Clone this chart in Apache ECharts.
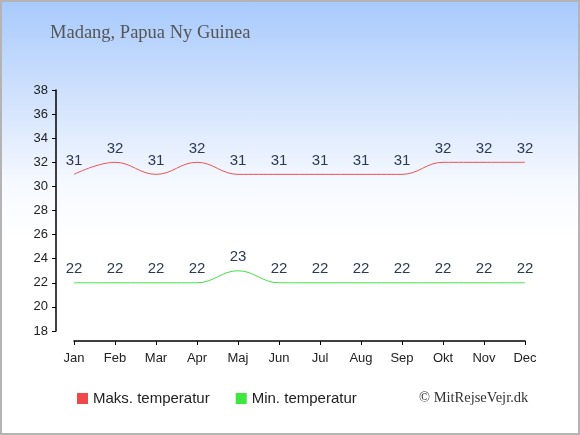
<!DOCTYPE html>
<html>
<head>
<meta charset="utf-8">
<script src="https://cdn.jsdelivr.net/npm/echarts@6/dist/echarts.min.js"></script>
<style>
html,body{margin:0;padding:0;}
#chart{width:580px;height:435px;box-sizing:border-box;border:2px solid #b4b4b4;
background:linear-gradient(to bottom,#a8cafc 0%,#d6e5fd 25%,#f6f9ff 42%,#ffffff 55%,#ffffff 100%);}
</style>
</head>
<body>
<div id="chart"></div>
<script>
var months = ['Jan','Feb','Mar','Apr','Maj','Jun','Jul','Aug','Sep','Okt','Nov','Dec'];
var maxTemp = [31,32,31,32,31,31,31,31,31,32,32,32];
var minTemp = [22,22,22,22,23,22,22,22,22,22,22,22];

var chart = echarts.init(document.getElementById('chart'));
var labelStyle = {show: true, position: 'top', distance: 6, fontFamily: 'Liberation Sans', fontSize: 15, color: '#2b3a55'};
var option = {
    animation: false,
    title: {
        text: 'Madang, Papua Ny Guinea',
        left: 43, top: 17,
        textStyle: {fontFamily: 'Liberation Serif', fontWeight: 'normal', fontSize: 18.5, color: '#555'}
    },
    grid: {left: 72, right: 53, top: 88, bottom: 102},
    legend: {
        left: 70, top: 384, itemWidth: 11, itemHeight: 11, itemGap: 26,
        icon: 'rect',
        textStyle: {fontFamily: 'Liberation Sans', fontSize: 15, color: '#222'},
        data: ['Maks. temperatur', 'Min. temperatur']
    },
    graphic: [{
        type: 'text', left: 417, top: 389,
        style: {text: '© MitRejseVejr.dk', font: '14.5px "Liberation Serif"', fill: '#333'}
    }],
    xAxis: {
        type: 'category', data: months, boundaryGap: false, offset: 10,
        axisLine: {lineStyle: {color: '#000', width: 1.5}},
        axisTick: {length: 4, lineStyle: {color: '#000'}},
        axisLabel: {fontFamily: 'Liberation Sans', fontSize: 13, color: '#222', margin: 11}
    },
    yAxis: {
        type: 'value', min: 18, max: 38, interval: 2, offset: 18,
        axisLine: {show: true, lineStyle: {color: '#000', width: 1.5}},
        axisTick: {show: true, length: 4, lineStyle: {color: '#000'}},
        splitLine: {show: false},
        axisLabel: {fontFamily: 'Liberation Sans', fontSize: 13, color: '#222', margin: 8}
    },
    series: [{
        name: 'Maks. temperatur', type: 'line', data: maxTemp, smooth: 0.4,
        symbol: 'circle', symbolSize: 0, showSymbol: true, color: '#f04848',
        lineStyle: {width: 1, color: '#f05050'},
        label: labelStyle
    }, {
        name: 'Min. temperatur', type: 'line', data: minTemp, smooth: 0.4,
        symbol: 'circle', symbolSize: 0, showSymbol: true, color: '#3ee63e',
        lineStyle: {width: 1, color: '#44e044'},
        label: labelStyle
    }]
};
chart.setOption(option);
</script>
</body>
</html>
